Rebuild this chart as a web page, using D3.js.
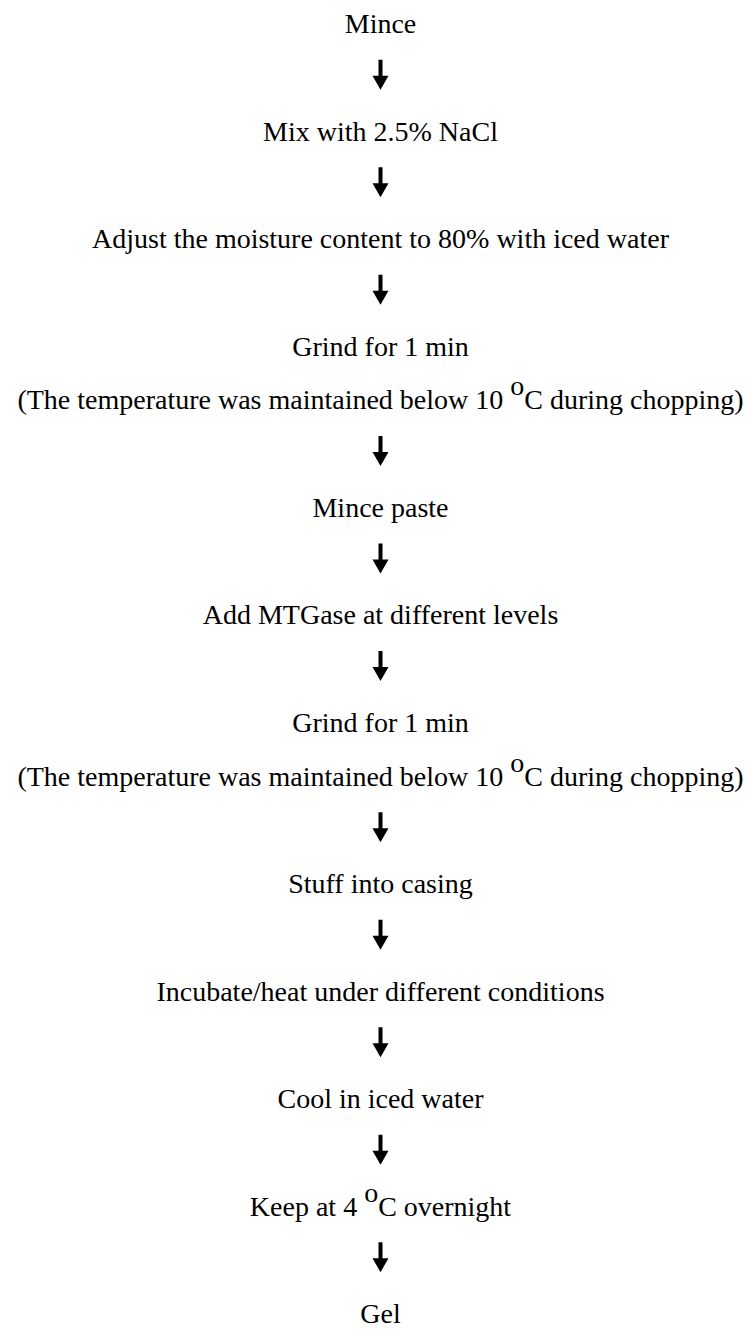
<!DOCTYPE html>
<html>
<head>
<meta charset="utf-8">
<script src="https://cdn.jsdelivr.net/npm/d3@7"></script>
<style>
  html, body { margin: 0; padding: 0; background: #fff; }
  svg { display: block; }
</style>
</head>
<body>
<svg id="chart" width="752" height="1329"></svg>
<script>
const DEG = "\u00B0";
// Main process steps, in order
const steps = [
  "Mince",
  "Mix with 2.5% NaCl",
  "Adjust the moisture content to 80% with iced water",
  "Grind for 1 min",
  "Mince paste",
  "Add MTGase at different levels",
  "Grind for 1 min",
  "Stuff into casing",
  "Incubate/heat under different conditions",
  "Cool in iced water",
  "Keep at 4 " + DEG + "C overnight",
  "Gel"
];
// Notes printed directly under a step (index of step -> note)
const noteSteps = [3, 6];
const noteTexts = [
  "(The temperature was maintained below 10 " + DEG + "C during chopping)",
  "(The temperature was maintained below 10 " + DEG + "C during chopping)"
];

// Build rows: each step, its optional note, then an arrow to the next step
const rows = [];
steps.forEach((s, i) => {
  rows.push({ type: "text", text: s });
  const n = noteSteps.indexOf(i);
  if (n >= 0) rows.push({ type: "text", text: noteTexts[n] });
  if (i < steps.length - 1) rows.push({ type: "arrow" });
});

const svg = d3.select("#chart");
const y = d3.scaleLinear().domain([0, rows.length - 1]).range([33, 1323]);
const cx = 380.5;

rows.forEach((r, i) => {
  const b = y(i);
  if (r.type === "text") {
    const t = svg.append("text")
      .attr("x", cx)
      .attr("y", b)
      .attr("text-anchor", "middle")
      .attr("font-family", "Liberation Serif")
      .attr("font-size", 28)
      .attr("fill", "#000");
    const parts = r.text.split(DEG);
    if (parts.length === 1) {
      t.text(r.text);
    } else {
      t.append("tspan").text(parts[0]);
      t.append("tspan").attr("dy", -14).text("o");
      t.append("tspan").attr("dy", 14).text(parts[1]);
    }
  } else {
    const top = b - 27, bot = b + 3, headH = 14, headW = 16, shaftW = 4;
    svg.append("rect")
      .attr("x", cx - shaftW / 2)
      .attr("y", top)
      .attr("width", shaftW)
      .attr("height", bot - headH - top + 1)
      .attr("fill", "#000");
    svg.append("path")
      .attr("d", `M${cx - headW / 2},${bot - headH} L${cx + headW / 2},${bot - headH} L${cx},${bot} Z`)
      .attr("fill", "#000");
  }
});
</script>
</body>
</html>
